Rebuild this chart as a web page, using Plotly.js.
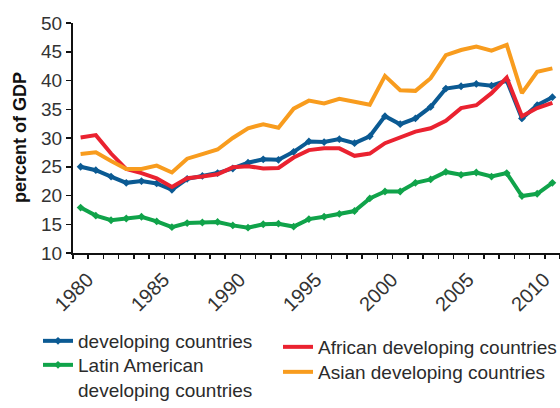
<!DOCTYPE html>
<html>
<head>
<meta charset="utf-8">
<script src="https://cdn.plot.ly/plotly-3.0.1.min.js"></script>
<style>
  html, body { margin: 0; padding: 0; background: #fff; }
  #chart { width: 560px; height: 408px; }
</style>
</head>
<body>
<div id="chart"></div>
<script>
const years = [1980,1981,1982,1983,1984,1985,1986,1987,1988,1989,1990,1991,1992,1993,1994,1995,1996,1997,1998,1999,2000,2001,2002,2003,2004,2005,2006,2007,2008,2009,2010,2011];

const developing = [25.0,24.4,23.3,22.2,22.5,22.1,21.0,22.9,23.4,23.9,24.7,25.7,26.3,26.2,27.6,29.4,29.3,29.8,29.1,30.3,33.8,32.4,33.4,35.4,38.6,39.0,39.4,39.1,40.0,33.4,35.7,37.1];
const latinAmerican = [17.9,16.5,15.7,16.0,16.3,15.5,14.5,15.2,15.3,15.4,14.8,14.4,15.0,15.1,14.6,15.9,16.3,16.8,17.3,19.5,20.7,20.7,22.2,22.8,24.1,23.6,24.0,23.3,23.9,19.9,20.3,22.2];
const african = [30.1,30.5,27.3,24.6,23.9,23.0,21.5,23.0,23.3,23.7,24.9,25.1,24.7,24.8,26.6,27.9,28.2,28.2,26.9,27.3,29.1,30.1,31.1,31.7,33.0,35.2,35.7,37.8,40.5,33.8,35.2,36.1];
const asian = [27.2,27.5,26.0,24.6,24.6,25.2,24.0,26.4,27.2,28.0,30.0,31.7,32.4,31.8,35.1,36.5,36.0,36.8,36.3,35.8,40.8,38.3,38.2,40.4,44.4,45.3,45.9,45.2,46.2,37.8,41.5,42.1];

const tickYears = [1980,1985,1990,1995,2000,2005,2010];
const tickLabels = ["1980","1985","1990","1995","2000","2005","2010"];
const yTicks = [10,15,20,25,30,35,40,45,50];

const FONT = '"Liberation Sans", Arial, sans-serif';
const C_BLUE = '#0b5a93', C_GREEN = '#10a34a', C_RED = '#ea2230', C_ORANGE = '#f89c1e';
const X_RANGE = [1979.5, 2011.5];
const LABEL_SHIFT = 0.45; // rotated labels sit slightly right of their category

const traces = [
  { x: years, y: developing, name: 'developing countries', type: 'scatter', mode: 'lines+markers',
    line: {color: C_BLUE, width: 4}, marker: {symbol: 'diamond', size: 6, color: C_BLUE}, legend: 'legend' },
  { x: years, y: latinAmerican, name: 'Latin American<br>developing countries', type: 'scatter', mode: 'lines+markers',
    line: {color: C_GREEN, width: 4}, marker: {symbol: 'diamond', size: 6, color: C_GREEN}, legend: 'legend2' },
  { x: years, y: african, name: 'African developing countries', type: 'scatter', mode: 'lines',
    line: {color: C_RED, width: 4}, legend: 'legend3' },
  { x: years, y: asian, name: 'Asian developing countries', type: 'scatter', mode: 'lines', xaxis: 'x2',
    line: {color: C_ORANGE, width: 4}, legend: 'legend4' }
];

const legendCommon = {
  xref: 'container', yref: 'container', xanchor: 'left', yanchor: 'top',
  font: {family: FONT, size: 19, color: '#2b2b2b'}, bgcolor: 'rgba(0,0,0,0)',
  valign: 'top', itemwidth: 30
};

const layout = {
  width: 560, height: 408,
  margin: {l: 73, r: 0, t: 23, b: 155, pad: 0, autoexpand: false},
  paper_bgcolor: '#fff', plot_bgcolor: '#fff',
  showlegend: true,
  font: {family: FONT, size: 19, color: '#333'},
  xaxis: {
    range: X_RANGE, showgrid: false, zeroline: false,
    showline: true, linecolor: '#111', linewidth: 2,
    tickmode: 'linear', tick0: 1979.5, dtick: 1,
    ticks: 'outside', ticklen: 4, tickwidth: 1.5, tickcolor: '#111',
    showticklabels: false
  },
  xaxis2: {
    overlaying: 'x', side: 'bottom', anchor: 'y',
    range: X_RANGE, showgrid: false, zeroline: false, showline: false,
    tickmode: 'array', tickvals: tickYears.map(v => v + LABEL_SHIFT), ticktext: tickLabels,
    ticks: '', tickangle: -45, ticklabelstandoff: 10,
    tickfont: {family: FONT, size: 20, color: '#333'}
  },
  yaxis: {
    range: [10, 50], showgrid: false, zeroline: false,
    showline: true, linecolor: '#111', linewidth: 2,
    tickmode: 'array', tickvals: yTicks,
    ticks: 'outside', ticklen: 5, tickwidth: 1.5, tickcolor: '#111',
    tickfont: {family: FONT, size: 19, color: '#333'}
  },
  annotations: [{
    text: 'percent of GDP', textangle: -90, showarrow: false,
    xref: 'paper', yref: 'paper', x: (20 - 73) / 487, y: 0.5, xanchor: 'center', yanchor: 'middle',
    font: {family: FONT, size: 18, color: '#111', weight: 'bold'}
  }],
  legend:  Object.assign({}, legendCommon, {x: 38/560,  y: 1 - 322/408}),
  legend2: Object.assign({}, legendCommon, {x: 38/560,  y: 1 - 346/408}),
  legend3: Object.assign({}, legendCommon, {x: 278/560, y: 1 - 328/408}),
  legend4: Object.assign({}, legendCommon, {x: 278/560, y: 1 - 353/408})
};

Plotly.newPlot('chart', traces, layout, {displayModeBar: false, staticPlot: true});
</script>
</body>
</html>
